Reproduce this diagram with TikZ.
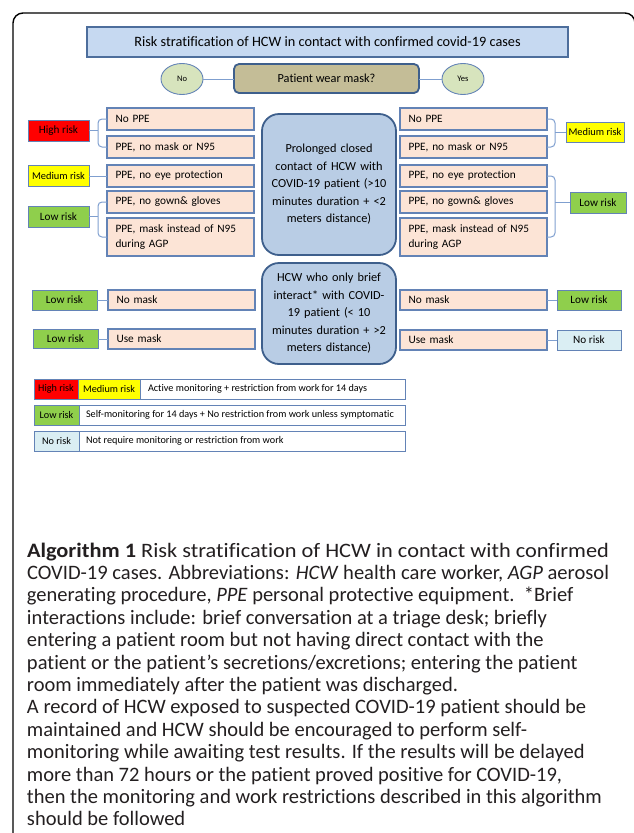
\documentclass[tikz,border=0pt]{standalone}
\usepackage{fontspec}
\setmainfont{Carlito}[Ligatures=NoCommon]
\newfontfamily\capfont{Carlito}[Ligatures=NoCommon]
\usetikzlibrary{shapes.geometric}

\definecolor{titlefill}{HTML}{C6D9F1}
\definecolor{titledraw}{HTML}{4D6E9C}
\definecolor{askfill}{HTML}{C4BD97}
\definecolor{darkblue}{HTML}{3E5F8C}
\definecolor{ynfill}{HTML}{D7E4BD}
\definecolor{ppefill}{HTML}{FCE4D6}
\definecolor{ppedraw}{HTML}{6383B6}
\definecolor{exposefill}{HTML}{B9CDE5}
\definecolor{connblue}{HTML}{7F9FCF}
\definecolor{riskred}{HTML}{FF0000}
\definecolor{riskyellow}{HTML}{FFFF00}
\definecolor{riskgreen}{HTML}{8FCF4C}
\definecolor{risknone}{HTML}{DAEEF3}
\definecolor{captioncolor}{HTML}{231F20}

\begin{document}
\begin{tikzpicture}[x=1pt, y=-1pt,
  every node/.style={inner sep=0pt, outer sep=0pt, text=black},
  titlebox/.style={draw=titledraw, fill=titlefill, line width=1.3pt, anchor=north west,
    font=\fontsize{14.3}{17}\selectfont},
  askbox/.style={draw=darkblue, fill=askfill, line width=1.8pt, rounded corners=5pt,
    anchor=north west, font=\fontsize{12.3}{15}\selectfont},
  yn/.style={ellipse, draw=ppedraw, fill=ynfill, line width=0.9pt, minimum width=42pt,
    minimum height=31pt, font=\fontsize{8.5}{10}\selectfont},
  ppe/.style={draw=ppedraw, fill=ppefill, line width=1.1pt, anchor=north west,
    minimum width=147pt, text width=130pt, inner xsep=8.5pt, align=left,
    font=\fontsize{11.3}{15.5}\selectfont},
  expose/.style={draw=darkblue, fill=exposefill, line width=1.8pt, rounded corners=17pt,
    anchor=north west, minimum width=134pt, text width=130pt, align=center,
    font=\fontsize{12.3}{17.5}\selectfont},
  risk/.style={draw=ppedraw, line width=1pt, anchor=north west, align=center,
    font=\fontsize{11.2}{13}\selectfont},
  legcell/.style={draw=ppedraw, line width=1pt, anchor=north west, minimum height=20.5pt,
    font=\fontsize{10.2}{12}\selectfont},
  legtext/.style={anchor=west, font=\fontsize{10.2}{12}\selectfont},
  conn/.style={draw=connblue, line width=1pt},
  captext/.style={anchor=base west, text=captioncolor, font=\capfont\fontsize{20.5}{24}\selectfont}
]
\useasboundingbox (0,0) rectangle (634,833);

% outer frame, open at the bottom
\begin{scope}
  \clip (0,0) rectangle (634,833);
  \draw[black, line width=1.4pt, rounded corners=10pt] (13,850) -- (13,13) -- (635,13) -- (635,850);
\end{scope}

% heading and question
\node[titlebox, minimum width=481pt, minimum height=30pt] (title) at (87,27)
  {Risk stratification of HCW in contact with confirmed covid-19 cases};
\node[askbox, minimum width=185pt, minimum height=29pt] (ask) at (234,64) {Patient wear mask?};
\node[yn] (no) at (182,79) {No};
\node[yn] (yes) at (463,79) {Yes};
\draw[conn] (no.east) -- (ask.west |- no.east);
\draw[conn] (ask.east |- yes.west) -- (yes.west);

% exposure categories
\node[expose, minimum height=141pt] (prolonged) at (262,114)
  {Prolonged closed\\contact of HCW with\\COVID-19 patient (>10\\minutes duration + <2\\meters distance)};
\node[expose, minimum height=101pt] (brief) at (262,263)
  {HCW who only brief\\interact* with COVID-\\19 patient (< 10\\minutes duration + >2\\meters distance)};

% protective equipment, patient without mask
\node[ppe, minimum height=22pt] (nppeL) at (107,108) {No PPE};
\node[ppe, minimum height=22pt] (nmaskL) at (107,136) {PPE, no mask or N95};
\node[ppe, minimum height=22pt] (neyeL) at (107,165) {PPE, no eye protection};
\node[ppe, minimum height=22pt] (ngownL) at (107,191) {PPE, no gown\& gloves};
\node[ppe, minimum height=38pt] (agpL) at (107,218) {PPE, mask instead of N95\\during AGP};

% protective equipment, patient with mask
\node[ppe, minimum height=22pt] (nppeR) at (400,108) {No PPE};
\node[ppe, minimum height=22pt] (nmaskR) at (400,136) {PPE, no mask or N95};
\node[ppe, minimum height=22pt] (neyeR) at (400,165) {PPE, no eye protection};
\node[ppe, minimum height=22pt] (ngownR) at (400,191) {PPE, no gown\& gloves};
\node[ppe, minimum height=38pt] (agpR) at (400,218) {PPE, mask instead of N95\\during AGP};

% brief contact
\node[ppe, minimum height=20pt] (bnoL) at (108,290) {No mask};
\node[ppe, minimum height=20pt] (buseL) at (108,329) {Use mask};
\node[ppe, minimum height=20pt] (bnoR) at (400,290) {No mask};
\node[ppe, minimum height=20pt] (buseR) at (400,330) {Use mask};

% risk levels
\node[risk, fill=riskred, minimum width=61pt, minimum height=21pt] (highL) at (28,120) {High risk};
\node[risk, fill=riskyellow, minimum width=61pt, minimum height=21pt,
  font=\fontsize{10.4}{12}\selectfont] (medL) at (28,165.5) {Medium risk};
\node[risk, fill=riskgreen, minimum width=61pt, minimum height=21pt] (lowL) at (28,206) {Low risk};
\node[risk, fill=riskyellow, minimum width=58pt, minimum height=20pt,
  font=\fontsize{10.4}{12}\selectfont] (medR) at (566,122) {Medium risk};
\node[risk, fill=riskgreen, minimum width=56pt, minimum height=21pt] (lowR) at (570,192) {Low risk};
\node[risk, fill=riskgreen, minimum width=65pt, minimum height=20pt] (blowL) at (32,290) {Low risk};
\node[risk, fill=riskgreen, minimum width=65pt, minimum height=19pt] (blowL2) at (33,329.5) {Low risk};
\node[risk, fill=riskgreen, minimum width=64pt, minimum height=20pt] (blowR) at (557,290) {Low risk};
\node[risk, fill=risknone, minimum width=64pt, minimum height=20pt] (bnoneR) at (557,330) {No risk};

% bracket connectors
\coordinate (bxL) at (98,0);
\coordinate (bxR) at (555,0);
\draw[conn, rounded corners=4pt] (nppeL.west) -| (bxL |- highL.east) |- (nmaskL.west);
\draw[conn] (highL.east) -- (bxL |- highL.east);
\draw[conn] (medL.east) -- (neyeL.west |- medL.east);
\draw[conn, rounded corners=4pt] (ngownL.west) -| (bxL |- lowL.east) |- (agpL.west);
\draw[conn] (lowL.east) -- (bxL |- lowL.east);
\draw[conn, rounded corners=4pt] (nppeR.east) -| (bxR |- medR.west) |- (nmaskR.east);
\draw[conn] (bxR |- medR.west) -- (medR.west);
\draw[conn, rounded corners=4pt] (neyeR.east) -| (bxR |- lowR.west) |- (agpR.east);
\draw[conn] (bxR |- lowR.west) -- (lowR.west);
\draw[conn] (blowL.east) -- (bnoL.west |- blowL.east);
\draw[conn] (blowL2.east) -- (buseL.west |- blowL2.east);
\draw[conn] (bnoR.east |- blowR.west) -- (blowR.west);
\draw[conn] (buseR.east |- bnoneR.west) -- (bnoneR.west);

% legend
\node[legcell, fill=riskred, minimum width=44pt] (lgHigh) at (34,379) {High risk};
\node[legcell, fill=riskyellow, minimum width=62pt] (lgMed) at (lgHigh.north east) {Medium risk};
\node[legcell, fill=white, minimum width=265pt] (lgMedBox) at (lgMed.north east) {};
\node[legtext] (lgMedTxt) at ([xshift=8pt]lgMedBox.west) {Active monitoring + restriction from work for 14 days};
\node[legcell, fill=riskgreen, minimum width=45pt] (lgLow) at (34,405) {Low risk};
\node[legcell, fill=white, minimum width=326pt] (lgLowBox) at (lgLow.north east) {};
\node[legtext] (lgLowTxt) at ([xshift=7pt]lgLowBox.west)
  {Self-monitoring for 14 days + No restriction from work unless symptomatic};
\node[legcell, fill=risknone, minimum width=45pt] (lgNone) at (34,431) {No risk};
\node[legcell, fill=white, minimum width=326pt] (lgNoneBox) at (lgNone.north east) {};
\node[legtext] (lgNoneTxt) at ([xshift=7pt]lgNoneBox.west) {Not require monitoring or restriction from work};

% caption
\node[captext] (cap1) at (27,557) {\resizebox{582pt}{\height}{\textbf{Algorithm 1} Risk stratification of HCW in contact with confirmed}};
\node[captext] (cap2) at (27,579.4) {\resizebox{582pt}{\height}{COVID-19 cases. Abbreviations: \textit{HCW} health care worker, \textit{AGP} aerosol}};
\node[captext] (cap3) at (27,601.8) {generating procedure, \textit{PPE} personal protective equipment.\ \ *Brief};
\node[captext] (cap4) at (27,624.2) {interactions include: brief conversation at a triage desk; briefly};
\node[captext] (cap5) at (27,646.6) {entering a patient room but not having direct contact with the};
\node[captext] (cap6) at (27,669) {patient or the patient’s secretions/excretions; entering the patient};
\node[captext] (cap7) at (27,691.4) {room immediately after the patient was discharged.};
\node[captext] (cap8) at (27,713.8) {A record of HCW exposed to suspected COVID-19 patient should be};
\node[captext] (cap9) at (27,736.2) {maintained and HCW should be encouraged to perform self-};
\node[captext] (cap10) at (27,758.6) {monitoring while awaiting test results. If the results will be delayed};
\node[captext] (cap11) at (27,781) {more than 72 hours or the patient proved positive for COVID-19,};
\node[captext] (cap12) at (27,803.4) {then the monitoring and work restrictions described in this algorithm};
\node[captext] (cap13) at (27,825.8) {should be followed};
\end{tikzpicture}
\end{document}
